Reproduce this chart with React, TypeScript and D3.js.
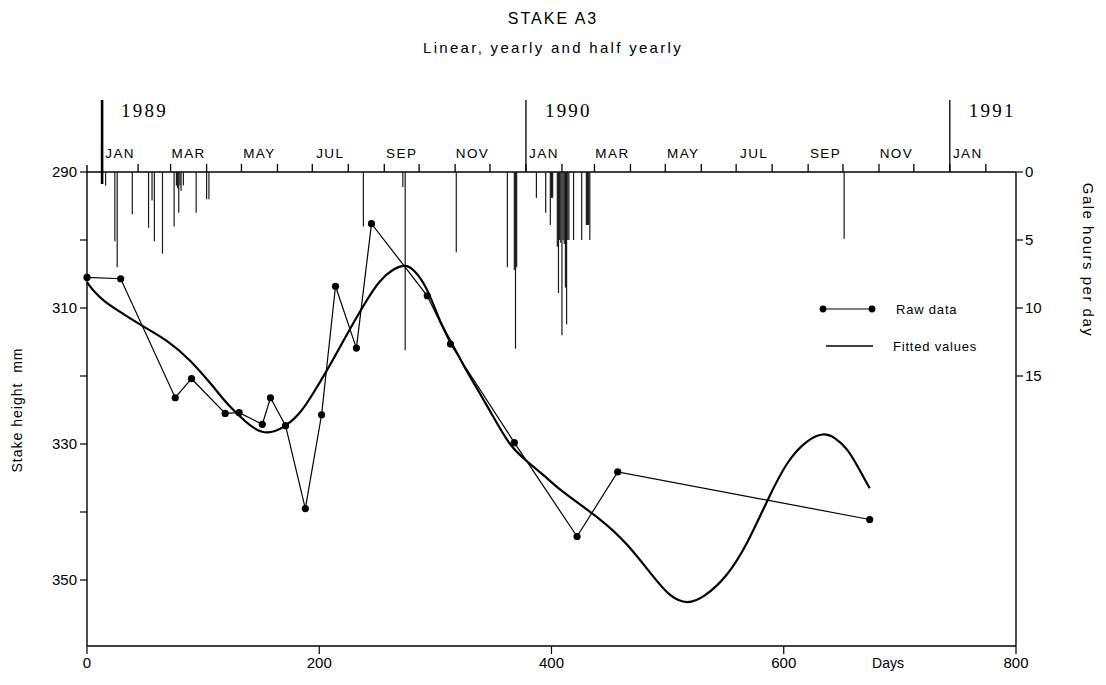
import React, { useEffect, useRef } from 'react'
import * as d3 from 'd3'

// raw stake readings (days since first reading, height in mm)
const rawDays = [0, 29, 76, 90, 119, 131, 151, 158, 171, 188, 202, 214, 232, 245, 293, 313, 368, 422, 457, 674]
const rawHeights = [305.5, 305.7, 323.2, 320.4, 325.5, 325.4, 327.1, 323.2, 327.3, 339.5, 325.7, 306.8, 315.9, 297.6, 308.2, 315.3, 329.8, 343.6, 334.1, 341.1]

// fitted values
const fitDays = [0, 6, 14, 25, 47, 69, 89, 109, 120, 132, 143, 155, 169, 184, 195, 207, 218, 229, 241, 252, 264, 274, 281, 293, 304, 315, 324, 333, 350, 364, 379, 395, 407, 444, 465, 488, 502, 517, 531, 551, 569, 586, 603, 620, 634, 644, 655, 664, 674]
const fitHeights = [306.2, 307.6, 308.9, 310.2, 312.6, 314.7, 317.6, 321.6, 324.0, 326.0, 327.7, 328.6, 327.7, 325.5, 322.5, 319.1, 315.7, 312.3, 308.8, 305.9, 304.2, 303.6, 304.2, 306.9, 312.2, 315.4, 318.4, 321.0, 326.0, 330.3, 332.6, 334.8, 336.8, 341.2, 344.6, 349.6, 352.5, 353.6, 352.6, 349.6, 344.6, 338.2, 332.4, 329.4, 328.3, 329.0, 330.7, 333.4, 336.5]

// gale hours per day
const galeDays = [16, 24, 26, 39, 53, 56, 58, 65, 75, 77, 78, 79, 80, 81, 83, 94, 103, 105, 238, 272, 274, 318, 362, 368, 369, 370, 387, 395, 399, 400, 401, 405, 406, 407, 408, 409, 410, 411, 412, 413, 414, 415, 419, 426, 430, 431, 432, 433, 652]
const galeHours = [1.0, 5.1, 7.0, 3.1, 4.1, 2.1, 5.1, 6.0, 4.0, 1.0, 1.2, 3.0, 1.0, 1.4, 1.0, 3.0, 2.0, 2.0, 4.0, 1.1, 13.1, 5.9, 7.0, 7.2, 13.0, 7.0, 1.9, 3.0, 3.9, 1.9, 1.9, 5.5, 8.9, 5.0, 5.2, 12.0, 5.0, 5.3, 8.5, 11.2, 5.0, 5.0, 5.0, 5.0, 3.9, 3.9, 3.9, 5.0, 4.9]

const dayTicks = [0, 200, 400, 600, 800]
const heightTicks = [290, 300, 310, 320, 330, 340, 350]
const heightLabels = [290, 310, 330, 350]
const galeTicks = [0, 5, 10, 15]
const yearLabels = ['1989', '1990', '1991']
const monthLabels = ['JAN', 'MAR', 'MAY', 'JUL', 'SEP', 'NOV']

const sans = 'Liberation Sans, Arial, sans-serif'

export default function App() {
  const ref = useRef<SVGSVGElement>(null)

  useEffect(() => {
    const svg = d3.select(ref.current)
    svg.selectAll('*').remove()

    const left = 87, right = 1016, top = 172, bottom = 646
    const x = d3.scaleLinear().domain([0, 800]).range([left, right])
    const y = d3.scaleLinear().domain([290, 350]).range([top, 580])
    const gy = d3.scaleLinear().domain([0, 15]).range([top, 376])
    const start = new Date(1988, 11, 19)
    const t = d3.scaleTime().domain([start, d3.timeDay.offset(start, 800)]).range([left, right])

    // titles
    svg.append('text').attr('x', 553).attr('y', 24).attr('text-anchor', 'middle')
      .style('font', `16px ${sans}`).style('letter-spacing', '2px').text('STAKE A3')
    svg.append('text').attr('x', 553).attr('y', 53).attr('text-anchor', 'middle')
      .style('font', `15px ${sans}`).style('letter-spacing', '2.3px').text('Linear, yearly and half yearly')

    // top calendar axis
    svg.append('line').attr('x1', left).attr('x2', right).attr('y1', top).attr('y2', top)
      .attr('stroke', '#000').attr('stroke-width', 1.6)
    const months = d3.timeMonth.range(d3.timeMonth.ceil(start), t.domain()[1])
    svg.selectAll('.mtick').data(months).enter().append('line')
      .attr('x1', d => t(d)).attr('x2', d => t(d)).attr('y1', top).attr('y2', top - 8)
      .attr('stroke', '#000').attr('stroke-width', 1.3)
    svg.selectAll('.mlabel').data(months.filter(d => d.getMonth() % 2 === 0)).enter().append('text')
      .attr('x', d => (t(d) + t(d3.timeMonth.offset(d, 1))) / 2).attr('y', 158)
      .attr('text-anchor', 'middle')
      .style('font', `13.5px ${sans}`).style('letter-spacing', '1.4px')
      .text(d => monthLabels[d.getMonth() / 2])
    const years = d3.timeYear.range(start, t.domain()[1])
    svg.selectAll('.yline').data(years).enter().append('line')
      .attr('x1', d => t(d)).attr('x2', d => t(d)).attr('y1', 100).attr('y2', (d, i) => i === 0 ? 184 : top)
      .attr('stroke', '#000').attr('stroke-width', (d, i) => i === 0 ? 2.6 : 1.3)
    svg.selectAll('.ylabel').data(years).enter().append('text')
      .attr('x', d => t(d) + 19).attr('y', 117)
      .style('font', '19px Liberation Serif, serif').style('letter-spacing', '2.2px')
      .text((d, i) => yearLabels[i])

    // gale bars
    svg.selectAll('.gale').data(galeDays).enter().append('line')
      .attr('x1', d => x(d)).attr('x2', d => x(d))
      .attr('y1', top).attr('y2', (d, i) => gy(galeHours[i]))
      .attr('stroke', '#1a1a1a').attr('stroke-width', 1.2)

    // left axis
    svg.append('line').attr('x1', left).attr('x2', left).attr('y1', 165).attr('y2', bottom)
      .attr('stroke', '#000').attr('stroke-width', 1.4)
    svg.selectAll('.ytick').data(heightTicks).enter().append('line')
      .attr('x1', left).attr('x2', left - 7).attr('y1', d => y(d)).attr('y2', d => y(d))
      .attr('stroke', '#000').attr('stroke-width', 1.2)
    svg.selectAll('.ylab').data(heightLabels).enter().append('text')
      .attr('x', left - 10).attr('y', d => y(d)).attr('dy', '0.36em').attr('text-anchor', 'end')
      .style('font', `15px ${sans}`).text(d => d)
    svg.append('text').attr('transform', 'translate(22,410) rotate(-90)').attr('text-anchor', 'middle')
      .style('font', `14px ${sans}`).style('letter-spacing', '1px').style('white-space', 'pre')
      .text('Stake height  mm')

    // right axis
    svg.append('line').attr('x1', right).attr('x2', right).attr('y1', top).attr('y2', bottom)
      .attr('stroke', '#000').attr('stroke-width', 1.4)
    svg.selectAll('.gtick').data(galeTicks).enter().append('line')
      .attr('x1', right).attr('x2', right + 7).attr('y1', d => gy(d)).attr('y2', d => gy(d))
      .attr('stroke', '#000').attr('stroke-width', 1.2)
    svg.selectAll('.glab').data(galeTicks).enter().append('text')
      .attr('x', right + 9).attr('y', d => gy(d)).attr('dy', '0.36em')
      .style('font', `15px ${sans}`).text(d => d)
    svg.append('text').attr('transform', 'translate(1083,260) rotate(90)').attr('text-anchor', 'middle')
      .style('font', `15px ${sans}`).style('letter-spacing', '1.5px').text('Gale hours per day')

    // bottom axis
    svg.append('line').attr('x1', left).attr('x2', right).attr('y1', bottom).attr('y2', bottom)
      .attr('stroke', '#000').attr('stroke-width', 1.5)
    svg.selectAll('.xtick').data(dayTicks).enter().append('line')
      .attr('x1', d => x(d)).attr('x2', d => x(d)).attr('y1', bottom).attr('y2', bottom + 8)
      .attr('stroke', '#000').attr('stroke-width', 1.2)
    svg.selectAll('.xlab').data(dayTicks).enter().append('text')
      .attr('x', d => x(d)).attr('y', 668).attr('text-anchor', 'middle')
      .style('font', `15px ${sans}`).text(d => d)
    svg.append('text').attr('x', 888).attr('y', 668).attr('text-anchor', 'middle')
      .style('font', `14px ${sans}`).text('Days')

    // fitted curve
    const fitLine = d3.line<number>()
      .x(d => x(d)).y((d, i) => y(fitHeights[i]))
      .curve(d3.curveBasis)
    svg.append('path').attr('d', fitLine(fitDays)).attr('fill', 'none')
      .attr('stroke', '#000').attr('stroke-width', 2.2)

    // raw data
    const rawLine = d3.line<number>().x(d => x(d)).y((d, i) => y(rawHeights[i]))
    svg.append('path').attr('d', rawLine(rawDays)).attr('fill', 'none')
      .attr('stroke', '#000').attr('stroke-width', 1.2)
    svg.selectAll('.raw').data(rawDays).enter().append('circle')
      .attr('cx', d => x(d)).attr('cy', (d, i) => y(rawHeights[i])).attr('r', 3.6)
      .attr('fill', '#000')

    // legend
    svg.append('line').attr('x1', 823).attr('x2', 872).attr('y1', 309).attr('y2', 309)
      .attr('stroke', '#000').attr('stroke-width', 1.2)
    svg.selectAll('.ldot').data([823, 872]).enter().append('circle')
      .attr('cx', d => d).attr('cy', 309).attr('r', 3.4).attr('fill', '#000')
    svg.append('text').attr('x', 896).attr('y', 314)
      .style('font', `13px ${sans}`).style('letter-spacing', '0.8px').text('Raw data')
    svg.append('line').attr('x1', 826).attr('x2', 873).attr('y1', 346).attr('y2', 346)
      .attr('stroke', '#000').attr('stroke-width', 1.6)
    svg.append('text').attr('x', 893).attr('y', 351)
      .style('font', `13px ${sans}`).style('letter-spacing', '0.8px').text('Fitted values')
  }, [])

  return (
    <svg ref={ref} width={1106} height={685}
      style={{ position: 'absolute', left: 0, top: 0, background: '#fff' }} />
  )
}
